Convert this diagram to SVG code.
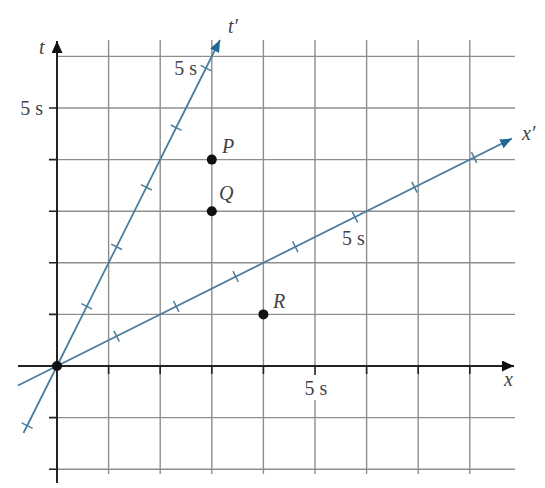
<svg xmlns="http://www.w3.org/2000/svg" width="545" height="488" viewBox="0 0 545 488">
<style>
.grid{stroke:#8e8e8e;stroke-width:1.4;fill:none}
.axis{stroke:#222;stroke-width:2;fill:none}
.tick{stroke:#222;stroke-width:1.6}
.blue{stroke:#4d7d9c;stroke-width:1.8;fill:none}
.btick{stroke:#4d7d9c;stroke-width:1.5}
.lbl{font-family:"Liberation Serif","Times New Roman","DejaVu Serif",serif;font-size:20px;fill:#444}
.it{font-family:"Liberation Serif","Times New Roman","DejaVu Serif",serif;font-size:20px;font-style:italic;fill:#444}
.dot{fill:#111}
</style>
<defs>
<marker id="ab" markerUnits="userSpaceOnUse" markerWidth="13" markerHeight="10" refX="12" refY="5" orient="auto">
<path d="M0,0 L12,5 L0,10 z" fill="#1f6a94"/>
</marker>
<marker id="ak" markerUnits="userSpaceOnUse" markerWidth="13" markerHeight="11" refX="12" refY="5.5" orient="auto">
<path d="M0,0 L12,5.5 L0,11 z" fill="#111"/>
</marker>
</defs>
<rect width="545" height="488" fill="#fff"/>
<g id="grid">
<path class="grid" d="M108.6,40V474M160.2,40V474M211.8,40V474M263.4,40V474M315,40V366M315,400V474M366.6,40V474M418.2,40V474M469.8,40V474"/>
<path class="grid" d="M57,56.4H515M57,108H515M57,159.6H515M57,211.2H515M57,262.8H515M57,314.4H515M57,417.6H515M57,469.2H515"/>
</g>
<g id="axes">
<line class="axis" x1="18" y1="366" x2="514" y2="366" marker-end="url(#ak)"/>
<line class="axis" x1="57" y1="483" x2="57" y2="41" marker-end="url(#ak)"/>
<path class="tick" d="M49,108H57M49,159.6H57M49,211.2H57M49,262.8H57M49,314.4H57M49,417.6H57M49,469.2H57"/>
<path class="tick" d="M108.6,366V374M160.2,366V374M211.8,366V374M263.4,366V374M315,366V375M366.6,366V374M418.2,366V374M469.8,366V374"/>
</g>
<g id="connectors">
<line class="blue" x1="23.5" y1="433" x2="220" y2="40" marker-end="url(#ab)"/>
<line class="blue" x1="18" y1="385.5" x2="512" y2="138.5" marker-end="url(#ab)"/>
<path class="btick" d="M21.8,422.9L32.6,428.3M81.4,303.7L92.2,309.1M111.2,244.1L122,249.5M141,184.6L151.8,190M170.8,125L181.6,130.4M200.6,65.4L211.4,70.8"/>
<path class="btick" d="M113.9,330.8L119.3,341.6M173.5,301L178.9,311.8M233,271.2L238.4,282M292.6,241.4L298,252.2M352.2,211.6L357.6,222.4M411.8,181.9L417.2,192.7M471.4,152.1L476.8,162.9"/>
</g>
<g id="labels">
<text class="it" x="39" y="54">t</text>
<text class="it" x="228" y="33">t′</text>
<text class="it" x="522" y="140">x′</text>
<text class="it" x="504" y="386">x</text>
<text class="lbl" x="43" y="115" text-anchor="end">5 s</text>
<text class="lbl" x="197" y="75" text-anchor="end">5 s</text>
<text class="lbl" x="342" y="245">5 s</text>
<text class="lbl" x="316" y="395" text-anchor="middle">5 s</text>
</g>
<g id="origin"><circle class="dot" cx="57" cy="366" r="5"/></g>
<g id="P"><circle class="dot" cx="211.8" cy="159.6" r="5"/><text class="it" x="222" y="153">P</text></g>
<g id="Q"><circle class="dot" cx="211.8" cy="211.2" r="5"/><text class="it" x="219" y="200">Q</text></g>
<g id="R"><circle class="dot" cx="263.4" cy="314.4" r="5"/><text class="it" x="273" y="308">R</text></g>
</svg>
